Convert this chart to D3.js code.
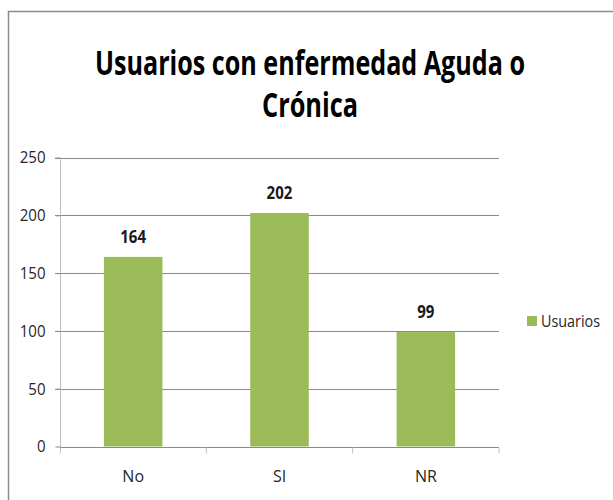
<!DOCTYPE html>
<html>
<head>
<meta charset="utf-8">
<script src="https://cdn.jsdelivr.net/npm/d3@7"></script>
<style>
  body { margin: 0; background: #fff; }
  svg { display: block; font-family: "Open Sans", sans-serif; }
</style>
</head>
<body>
<div id="chart"></div>
<script>
const categories = ["No", "SI", "NR"];
const usuarios = [164, 202, 99];
const yTicks = [0, 50, 100, 150, 200, 250];
const seriesName = "Usuarios";
const titleLines = ["Usuarios con enfermedad Aguda o", "Crónica"];

const width = 613, height = 500;
const plot = { left: 60, right: 499, top: 157.5, bottom: 446.5 };
const barColor = "#9bbb59";

const svg = d3.select("#chart").append("svg")
    .attr("width", width)
    .attr("height", height);

// chart frame
svg.append("path")
    .attr("d", `M8.5,${height} V11.5 H${width}`)
    .attr("fill", "none")
    .attr("stroke", "#8c8c8c")
    .attr("stroke-width", 1.5);

// title (narrowed to mimic the condensed original face)
svg.append("text")
    .attr("x", 310).attr("y", 75)
    .attr("text-anchor", "middle")
    .attr("font-size", 34).attr("font-weight", "bold")
    .attr("textLength", 430).attr("lengthAdjust", "spacingAndGlyphs")
    .text(titleLines[0]);
svg.append("text")
    .attr("x", 310).attr("y", 117)
    .attr("text-anchor", "middle")
    .attr("font-size", 34).attr("font-weight", "bold")
    .attr("textLength", 96).attr("lengthAdjust", "spacingAndGlyphs")
    .text(titleLines[1]);

const x = d3.scaleBand()
    .domain(categories)
    .range([plot.left, plot.right])
    .padding(0);

const y = d3.scaleLinear()
    .domain([0, 250])
    .range([plot.bottom, plot.top]);

// gridlines
svg.append("g")
    .selectAll("line")
    .data(yTicks.filter(d => d > 0))
    .join("line")
    .attr("x1", plot.left - 5).attr("x2", plot.right)
    .attr("y1", d => Math.round(y(d)) + 0.5).attr("y2", d => Math.round(y(d)) + 0.5)
    .attr("stroke", "#8a8a8a");

// y axis
const yAxis = svg.append("g")
    .attr("transform", `translate(${plot.left + 0.5},0)`)
    .call(d3.axisLeft(y).tickValues(yTicks).tickSize(5).tickPadding(10));
yAxis.select(".domain").attr("stroke", "#bfbfbf").attr("d", `M0,${plot.top}V${plot.bottom + 6}`);
yAxis.selectAll(".tick line").attr("stroke", "#8a8a8a");
yAxis.selectAll(".tick text")
    .attr("font-size", 17)
    .attr("fill", "#262626")
    .attr("font-family", "Open Sans, sans-serif")
    .attr("textLength", d => String(d).length * 8.6)
    .attr("lengthAdjust", "spacingAndGlyphs");

// x axis
const xAxis = svg.append("g")
    .attr("transform", `translate(0,${Math.round(plot.bottom) + 0.5})`)
    .call(d3.axisBottom(x).tickSize(0).tickPadding(23));
xAxis.select(".domain").attr("stroke", "#8a8a8a").attr("d", `M${plot.left},0H${plot.right}`);
xAxis.selectAll(".tick text")
    .attr("font-size", 16)
    .attr("fill", "#262626")
    .attr("font-family", "Open Sans, sans-serif");
xAxis.selectAll(".sep")
    .data([categories[0], ...categories])
    .join("line")
    .attr("class", "sep")
    .attr("x1", (d, i) => i === 0 ? plot.left + 0.5 : x(d) + x.bandwidth())
    .attr("x2", (d, i) => i === 0 ? plot.left + 0.5 : x(d) + x.bandwidth())
    .attr("y1", 0).attr("y2", 6)
    .attr("stroke", "#bfbfbf");

// bars
const barW = x.bandwidth() * 0.4;
svg.append("g")
    .selectAll("rect")
    .data(usuarios)
    .join("rect")
    .attr("x", (d, i) => x(categories[i]) + (x.bandwidth() - barW) / 2)
    .attr("y", d => y(d))
    .attr("width", barW)
    .attr("height", d => plot.bottom - y(d))
    .attr("fill", barColor);

// data labels
svg.append("g")
    .selectAll("text")
    .data(usuarios)
    .join("text")
    .attr("x", (d, i) => x(categories[i]) + x.bandwidth() / 2)
    .attr("y", d => y(d) - 14)
    .attr("text-anchor", "middle")
    .attr("font-size", 17).attr("font-weight", "bold")
    .attr("fill", "#1a1a1a")
    .attr("textLength", d => String(d).length * 8.6)
    .attr("lengthAdjust", "spacingAndGlyphs")
    .text(d => d);

// legend
const legend = svg.append("g").attr("transform", "translate(527,316)");
legend.append("rect").attr("width", 10).attr("height", 10).attr("fill", barColor);
legend.append("text")
    .attr("x", 14).attr("y", 11)
    .attr("font-size", 17)
    .attr("fill", "#262626")
    .attr("textLength", 59).attr("lengthAdjust", "spacingAndGlyphs")
    .text(seriesName);
</script>
</body>
</html>
